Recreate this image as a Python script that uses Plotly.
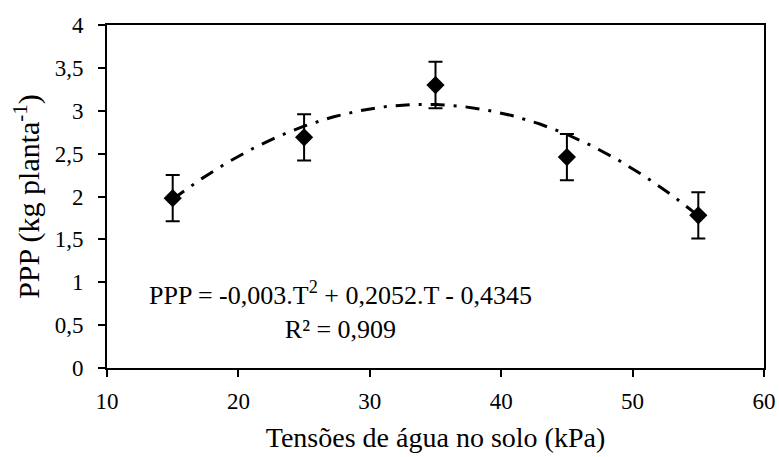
import numpy as np
import plotly.graph_objects as go

# Data
tensao = [15, 25, 35, 45, 55]
ppp = [1.98, 2.69, 3.30, 2.46, 1.78]
erro = [0.27, 0.27, 0.27, 0.27, 0.27]
# Trendline coefficients as printed on the chart (a, b, c)
coef = [-0.003, 0.2052, -0.4345]
x_ticks = [10, 20, 30, 40, 50, 60]
y_ticks = [0, 0.5, 1, 1.5, 2, 2.5, 3, 3.5, 4]
y_tick_labels = ["0", "0,5", "1", "1,5", "2", "2,5", "3", "3,5", "4"]

FONT = "Liberation Serif"

xs = np.linspace(min(tensao), max(tensao), 200)
ys = np.polyval(coef, xs)

fig = go.Figure()
fig.add_trace(go.Scatter(
    x=xs, y=ys, mode="lines",
    line=dict(color="black", width=3, dash="14px,9px,3px,9px"),
    hoverinfo="skip", showlegend=False,
))
fig.add_trace(go.Scatter(
    x=tensao, y=ppp, mode="markers",
    marker=dict(symbol="diamond", size=14, color="black"),
    error_y=dict(type="data", array=erro, visible=True, color="black", thickness=2, width=7),
    showlegend=False,
))

fig.add_annotation(
    x=0.355, y=0.168, xref="paper", yref="paper",
    text="PPP = -0,003.T<sup>2</sup> + 0,2052.T - 0,4345<br>R² = 0,909",
    showarrow=False, align="center", xanchor="center", yanchor="middle",
    font=dict(family=FONT, size=26, color="black"),
)

fig.update_layout(
    width=779, height=457,
    margin=dict(l=107, r=15, t=25, b=89),
    paper_bgcolor="white", plot_bgcolor="white",
    font=dict(family=FONT, color="black", size=22),
)
fig.update_xaxes(
    range=[10, 60], tickvals=x_ticks, ticktext=[str(v) for v in x_ticks],
    showgrid=False, zeroline=False, automargin=False,
    showline=True, linecolor="black", linewidth=2, mirror=True,
    ticks="outside", ticklen=7, tickwidth=2, tickcolor="black",
    tickfont=dict(family=FONT, size=23, color="black"),
    ticklabelstandoff=4,
    title=dict(text="Tensões de água no solo (kPa)", font=dict(family=FONT, size=28, color="black"), standoff=15),
)
fig.update_yaxes(
    range=[0, 4], tickvals=y_ticks, ticktext=y_tick_labels,
    showgrid=False, zeroline=False, automargin=False,
    showline=True, linecolor="black", linewidth=2, mirror=True,
    ticks="outside", ticklen=7, tickwidth=2, tickcolor="black",
    tickfont=dict(family=FONT, size=23, color="black"),
    ticklabelstandoff=10,
    title=dict(text="PPP (kg planta<sup>-1</sup>)", font=dict(family=FONT, size=30, color="black"), standoff=6),
)

fig.write_html("out.html", config={"displayModeBar": False},
               post_script="document.body.style.margin='0px';")
